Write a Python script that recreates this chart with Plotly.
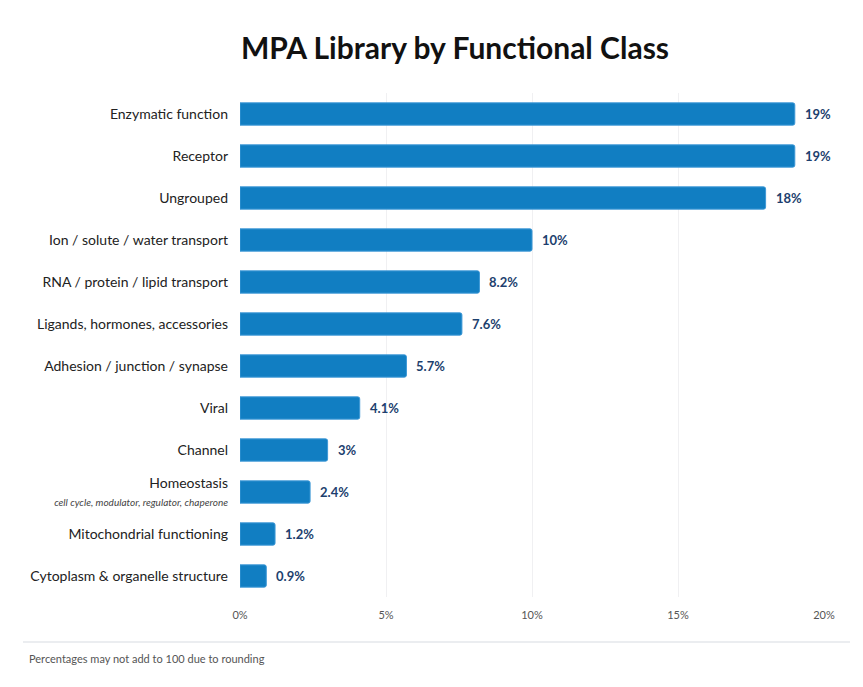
import plotly.graph_objects as go

categories = [
    "Enzymatic function",
    "Receptor",
    "Ungrouped",
    "Ion / solute / water transport",
    "RNA / protein / lipid transport",
    "Ligands, hormones, accessories",
    "Adhesion / junction / synapse",
    "Viral",
    "Channel",
    "Homeostasis<br><i><span style='font-size:10px;color:#444'>cell cycle, modulator, regulator, chaperone</span></i>",
    "Mitochondrial functioning",
    "Cytoplasm & organelle structure",
]
values = [19.0, 19.0, 18.0, 10.0, 8.2, 7.6, 5.7, 4.1, 3.0, 2.4, 1.2, 0.9]
value_labels = ["19%", "19%", "18%", "10%", "8.2%", "7.6%", "5.7%", "4.1%", "3%", "2.4%", "1.2%", "0.9%"]
x_ticks = [0, 5, 10, 15, 20]
x_tick_labels = ["0%", "5%", "10%", "15%", "20%"]

W, H = 863, 687
L, R, T, B = 240, 39, 93, 90
pw, ph = W - L - R, H - T - B

def px_x(p):
    return (p - L) / pw

def px_y(p):
    return (H - B - p) / ph

ypos = list(range(len(categories)))

fig = go.Figure(go.Bar(
    y=ypos,
    x=values,
    orientation="h",
    width=0.53,
    marker=dict(color="#117ec2", line=dict(color="#3d98d6", width=1), cornerradius=2),
    hoverinfo="skip",
))

for yv, xv, lab in zip(ypos, values, value_labels):
    fig.add_annotation(x=xv, y=yv, text=f"<b>{lab}</b>", showarrow=False, xanchor="left",
                       yanchor="middle", xshift=8,
                       font=dict(family="Lato", size=13, color="#1d3f6e"))

fig.update_layout(
    width=W, height=H,
    margin=dict(l=L, r=R, t=T, b=B, autoexpand=False),
    paper_bgcolor="white", plot_bgcolor="white",
    font=dict(family="Lato", color="#222"),
    showlegend=False,
    title=dict(text="<b>MPA Library by Functional Class</b>", x=455 / W, xanchor="center",
               y=1 - 48 / H, yanchor="middle", font=dict(family="Lato", size=30, color="#111")),
    xaxis=dict(range=[0, 20], tickvals=x_ticks, ticktext=x_tick_labels, showgrid=True,
               gridcolor="#f0f0f2", gridwidth=1, zeroline=False, showline=False,
               tickfont=dict(family="Lato", size=11, color="#555"), ticks="", ticklabelstandoff=10),
    yaxis=dict(tickvals=ypos, ticktext=categories,
               range=[len(categories) - 0.5, -0.5], autorange=False, showgrid=False, zeroline=False,
               showline=False, tickfont=dict(family="Lato", size=14, color="#222"), ticks="",
               ticklabelstandoff=11),
)

fig.add_shape(type="line", xref="paper", yref="paper", x0=px_x(23), x1=px_x(850),
              y0=px_y(642), y1=px_y(642), line=dict(color="#ebedf0", width=2))
fig.add_annotation(text="Percentages may not add to 100 due to rounding", xref="paper", yref="paper",
                   x=px_x(27), y=px_y(658), xanchor="left", yanchor="middle", showarrow=False,
                   font=dict(family="Lato", size=11, color="#555"))

fig.write_html("out.html")
